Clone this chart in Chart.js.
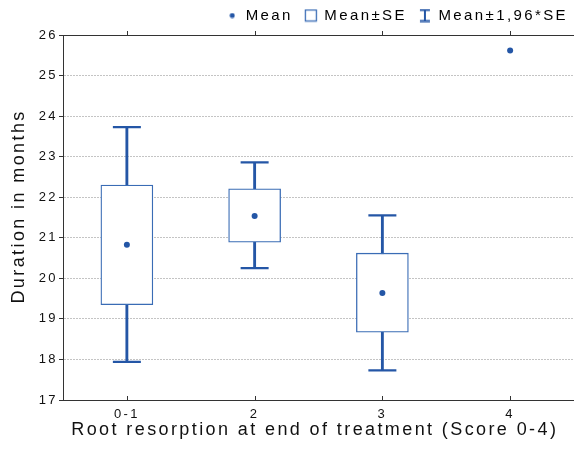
<!DOCTYPE html>
<html>
<head>
<meta charset="utf-8">
<script src="https://cdn.jsdelivr.net/npm/chart.js@4.4.1/dist/chart.umd.min.js"></script>
<style>
  html, body { margin: 0; padding: 0; background: #fff; }
</style>
</head>
<body>
<canvas id="myChart" width="574" height="449"></canvas>
<script>
// Duration (months) by root resorption score
var groups = ['0-1', '2', '3', '4'];
var means  = [20.83, 21.54, 19.64, 25.62];
var seLow  = [19.35, 20.89, 18.67, null];
var seHigh = [22.30, 22.21, 20.62, null];
var ciLow  = [17.94, 20.25, 17.73, null];
var ciHigh = [23.73, 22.86, 21.55, null];
var yMin = 17, yMax = 26;

var blue = '#2456a6';
var boxBlue = '#3a6cb5';
var axisCol = '#333333';

Chart.defaults.font.family = '"Liberation Sans", Arial, sans-serif';
Chart.defaults.color = '#111111';

function pair(lo, hi) {
  return groups.map(function (g, i) { return lo[i] == null ? null : [lo[i], hi[i]]; });
}

// legend icons
function icon(w, h, fn) {
  var c = document.createElement('canvas');
  c.width = w; c.height = h;
  fn(c.getContext('2d'));
  return c;
}
var dotIcon = icon(6, 6, function (g) { g.fillStyle = blue; g.beginPath(); g.arc(3, 3, 2.5, 0, Math.PI * 2); g.fill(); });
var boxIcon = icon(14, 14, function (g) { g.strokeStyle = boxBlue; g.lineWidth = 1.3; g.strokeRect(1.5, 1.5, 11, 11); });
var barIcon = icon(12, 14, function (g) {
  g.strokeStyle = blue; g.lineWidth = 2;
  g.beginPath(); g.moveTo(1, 1.5); g.lineTo(11, 1.5); g.moveTo(6, 1.5); g.lineTo(6, 12.5); g.moveTo(1, 12.5); g.lineTo(11, 12.5); g.stroke();
});

// wide, spaced lettering like the original export + small category ticks on the frame
var spacing = {
  id: 'spacing',
  beforeLayout: function (chart) { chart.ctx.letterSpacing = '2.4px'; },
  afterLayout: function (chart) {
    var lg = chart.legend;
    lg.right += 6; lg.left += 6;
    lg.top += 2; lg.bottom += 2;
  },
  beforeDraw: function (chart) { chart.ctx.letterSpacing = '2.4px'; },
  afterDraw: function (chart) {
    var a = chart.chartArea, xs = chart.scales.x, c = chart.ctx;
    c.save();
    c.strokeStyle = axisCol;
    c.lineWidth = 1;
    c.beginPath();
    groups.forEach(function (g, i) {
      var px = Math.round(xs.getPixelForValue(i)) + 0.5;
      c.moveTo(px, a.bottom); c.lineTo(px, a.bottom - 4);
      c.moveTo(px, a.top); c.lineTo(px, a.top - 4);
    });
    c.stroke();
    c.restore();
  }
};

var ctx = document.getElementById('myChart').getContext('2d');
var myChart = new Chart(ctx, {
  type: 'bar',
  data: {
    labels: groups,
    datasets: [{
      type: 'line',
      label: 'Mean',
      data: means,
      showLine: false,
      pointRadius: 3,
      pointBackgroundColor: blue,
      pointBorderWidth: 0,
      order: 0
    }, {
      label: 'Mean±SE',
      data: pair(seLow, seHigh),
      backgroundColor: '#ffffff',
      borderColor: boxBlue,
      borderWidth: 1.3,
      borderSkipped: false,
      barThickness: 52,
      grouped: false,
      order: 1
    }, {
      type: 'line',
      label: 'lowCap',
      data: ciLow,
      showLine: false,
      pointStyle: 'line',
      pointRadius: 14,
      pointBorderColor: blue,
      pointBorderWidth: 2.2,
      order: 2
    }, {
      type: 'line',
      label: 'highCap',
      data: ciHigh,
      showLine: false,
      pointStyle: 'line',
      pointRadius: 14,
      pointBorderColor: blue,
      pointBorderWidth: 2.2,
      order: 2
    }, {
      label: 'Mean±1,96*SE',
      data: pair(ciLow, ciHigh),
      backgroundColor: blue,
      barThickness: 2.2,
      grouped: false,
      order: 3
    }]
  },
  options: {
    responsive: false,
    animation: false,
    events: [],
    layout: { autoPadding: false, padding: { top: -6, right: 0, bottom: 0, left: 0 } },
    plugins: {
      tooltip: { enabled: false },
      legend: {
        position: 'top',
        align: 'end',
        labels: {
          usePointStyle: true,
          pointStyleWidth: 12,
          padding: 12,
          color: '#111111',
          font: { size: 15 },
          generateLabels: function () {
            return [
              { text: 'Mean', pointStyle: dotIcon, fillStyle: blue, strokeStyle: blue, lineWidth: 0, hidden: false },
              { text: 'Mean±SE', pointStyle: boxIcon, fillStyle: '#fff', strokeStyle: boxBlue, lineWidth: 0, hidden: false },
              { text: 'Mean±1,96*SE', pointStyle: barIcon, fillStyle: blue, strokeStyle: blue, lineWidth: 0, hidden: false }
            ];
          }
        }
      }
    },
    scales: {
      x: {
        type: 'category',
        position: 'bottom',
        offset: true,
        afterFit: function (s) { s.height = 49; s.paddingLeft = 0; s.paddingRight = 0; },
        grid: { display: false, drawTicks: false },
        border: { display: true, color: axisCol, width: 1 },
        ticks: { font: { size: 13 }, padding: 7, color: '#111111' },
        title: {
          display: true,
          text: 'Root resorption at end of treatment (Score 0-4) ',
          font: { size: 18 },
          color: '#111111',
          padding: { top: 0, bottom: 8 }
        }
      },
      x2: {
        type: 'category',
        position: 'top',
        offset: true,
        afterFit: function (s) { s.height = 4; s.paddingLeft = 0; s.paddingRight = 0; },
        grid: { display: false, drawTicks: false },
        border: { display: true, color: axisCol, width: 1 },
        ticks: { display: false }
      },
      y: {
        position: 'left',
        min: yMin,
        max: yMax,
        afterFit: function (s) { s.width = 63; },
        grid: { color: '#c4c4c4', tickLength: 4, tickColor: axisCol },
        border: { color: axisCol, width: 1, dash: [2, 1] },
        ticks: { stepSize: 1, font: { size: 13 }, padding: 1, color: '#111111' },
        title: {
          display: true,
          text: '   Duration in months',
          font: { size: 18 },
          color: '#111111',
          padding: { top: 8, bottom: 0 }
        }
      }
    }
  },
  plugins: [spacing]
});
</script>
</body>
</html>
